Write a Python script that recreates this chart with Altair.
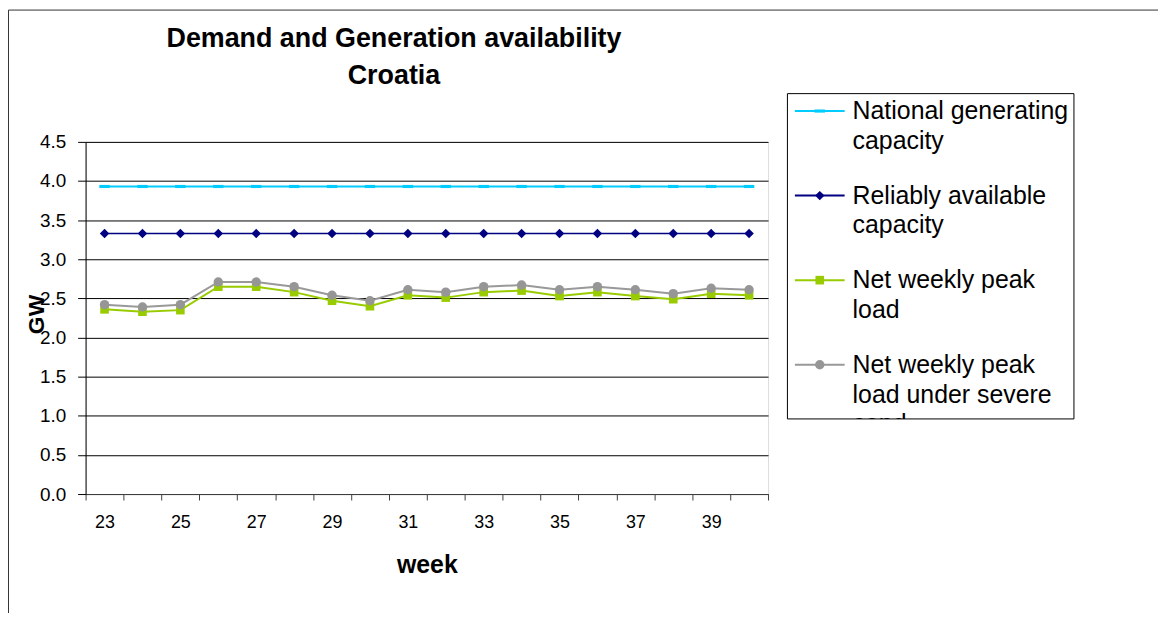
import altair as alt
import pandas as pd

weeks = [23, 24, 25, 26, 27, 28, 29, 30, 31, 32, 33, 34, 35, 36, 37, 38, 39, 40]
national = [3.93, 3.93, 3.93, 3.93, 3.93, 3.93, 3.93, 3.93, 3.93,
            3.93, 3.93, 3.93, 3.93, 3.93, 3.93, 3.93, 3.93, 3.93]
reliable = [3.33, 3.33, 3.33, 3.33, 3.33, 3.33, 3.33, 3.33, 3.33,
            3.33, 3.33, 3.33, 3.33, 3.33, 3.33, 3.33, 3.33, 3.33]
net_load = [2.36, 2.33, 2.35, 2.65, 2.65, 2.58, 2.47, 2.40, 2.54,
            2.51, 2.58, 2.60, 2.53, 2.58, 2.53, 2.49, 2.56, 2.54]
severe = [2.42, 2.39, 2.42, 2.71, 2.71, 2.65, 2.54, 2.47, 2.61,
          2.58, 2.65, 2.67, 2.61, 2.65, 2.61, 2.56, 2.63, 2.61]

title_lines = ["Demand and Generation availability", "Croatia"]
series_names = ["National generating capacity", "Reliably available capacity",
                "Net weekly peak load", "Net weekly peak load under severe cond"]
legend_lines = [["National generating", "capacity"],
                ["Reliably available", "capacity"],
                ["Net weekly peak", "load"],
                ["Net weekly peak", "load under severe", "cond"]]
series_values = [national, reliable, net_load, severe]
line_colors = ["#00CCFF", "#000080", "#99CC00", "#999999"]
marker_colors = ["#00CCFF", "#000080", "#99CC00", "#969696"]
marker_shapes = ["M-1,-0.3H1V0.3H-1Z", "diamond", "square", "circle"]
marker_sizes = [110, 90, 75, 90]
line_widths = [2, 1.5, 2, 2]

FONT = "Liberation Sans"
W, H = 686, 354

x_enc = alt.X(
    "week:O",
    bandPosition=0.5,
    scale=alt.Scale(type="band", paddingInner=0, paddingOuter=0),
    axis=alt.Axis(
        title="week", titleFontSize=25, titleFontWeight="bold", titleFont=FONT,
        titleBaseline="middle", titleY=71,
        labelAngle=0, labelFontSize=18, labelFont=FONT, labelColor="#000",
        labelExpr="datum.value % 2 == 1 ? datum.label : ''",
        tickBand="extent", tickSize=6, tickColor="#404040",
        domainColor="#404040", labelPadding=14, grid=False,
    ),
)
y_enc = alt.Y(
    "value:Q",
    scale=alt.Scale(domain=[0, 4.5], nice=False, zero=True),
    axis=alt.Axis(
        title="GW", titleFontSize=23, titleFontWeight="bold", titleFont=FONT,
        titleBaseline="middle", titleX=-49, titleY=H / 2 - 4, titleAngle=270,
        values=[0, 0.5, 1, 1.5, 2, 2.5, 3, 3.5, 4, 4.5], format=".1f",
        labelFontSize=19, labelFont=FONT, labelColor="#000", labelPadding=12,
        tickSize=8, tickColor="#000", domainColor="#000",
        grid=True, gridColor="#000", gridWidth=1,
    ),
)

layers = []
for name, vals, lc, mc, shp, sz, lw in zip(series_names, series_values, line_colors,
                                            marker_colors, marker_shapes, marker_sizes,
                                            line_widths):
    df = pd.DataFrame({"week": weeks, "value": vals, "series": name})
    base = alt.Chart(df)
    layers.append(base.mark_line(color=lc, strokeWidth=lw).encode(x=x_enc, y=y_enc))
    layers.append(base.mark_point(shape=shp, size=sz, filled=True, color=mc, opacity=1)
                  .encode(x=x_enc, y=y_enc))

one = pd.DataFrame({"a": [0]})
# outer chart border
layers.append(alt.Chart(one).mark_rect(fill=None, stroke="#333", strokeWidth=1).encode(
    x=alt.value(-77.5), x2=alt.value(W + 500), y=alt.value(-132.5), y2=alt.value(H + 300)))

# chart title (two lines)
for k, ln in enumerate(title_lines):
    t = pd.DataFrame({"t": [ln]})
    layers.append(alt.Chart(t).mark_text(align="center", baseline="alphabetic", fontSize=27,
                                         fontWeight="bold", font=FONT, color="#000")
                  .encode(text="t:N", x=alt.value(310), y=alt.value(-95 + 37 * k)))

# manual legend
LX0, LX1, LXM, LXT = 713, 763, 738, 771
for i, (name, lines) in enumerate(zip(series_names, legend_lines)):
    y0 = -31 + 85 * i
    d = pd.DataFrame({"s": [name]})
    layers.append(alt.Chart(d).mark_rule(color=line_colors[i], strokeWidth=2).encode(
        x=alt.value(LX0), x2=alt.value(LX1), y=alt.value(y0)))
    layers.append(alt.Chart(d).mark_point(shape=marker_shapes[i], size=marker_sizes[i],
                                          filled=True, color=marker_colors[i], opacity=1)
                  .encode(x=alt.value(LXM), y=alt.value(y0)))
    for k, ln in enumerate(lines):
        t = pd.DataFrame({"t": [ln]})
        layers.append(alt.Chart(t).mark_text(align="left", baseline="middle", fontSize=25,
                                             font=FONT, color="#000")
                      .encode(text="t:N", x=alt.value(LXT), y=alt.value(y0 + 30 * k)))

# mask below legend box (clips overflowing text) and the box itself
layers.append(alt.Chart(one).mark_rect(fill="white", stroke=None).encode(
    x=alt.value(705.5), x2=alt.value(995), y=alt.value(278.5), y2=alt.value(310)))
layers.append(alt.Chart(one).mark_rect(fill=None, stroke="#000", strokeWidth=1).encode(
    x=alt.value(705.5), x2=alt.value(993.5), y=alt.value(-48.5), y2=alt.value(278.5)))

chart = alt.layer(*layers).properties(
    width=W, height=H,
    autosize=alt.AutoSizeParams(type="none"),
    padding={"left": 78, "top": 133, "right": 392, "bottom": 118},
).configure_view(stroke="#808080", strokeWidth=1).configure(background="white")

chart.save("out.html", embed_options={"renderer": "svg", "actions": False})
